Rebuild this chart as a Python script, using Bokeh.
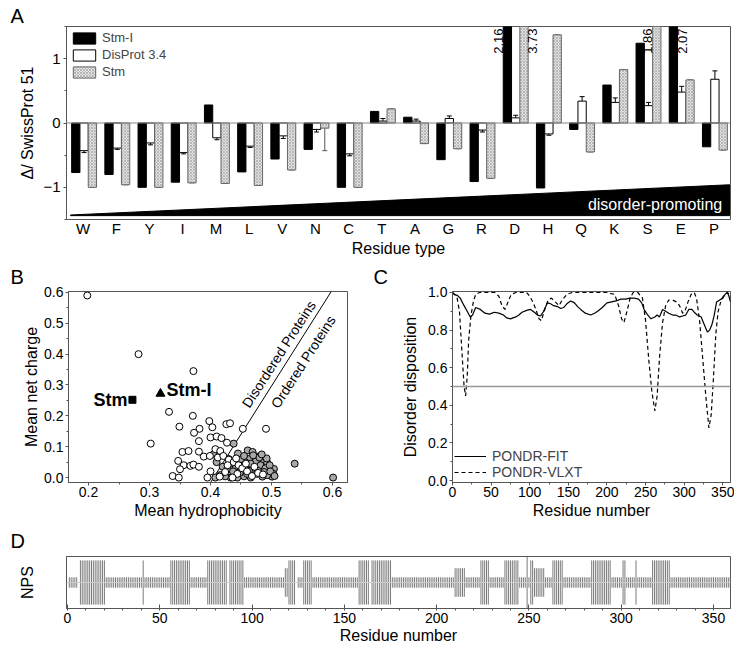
import math
from bokeh.plotting import figure
from bokeh.models import (ColumnDataSource, Whisker, TeeHead, Span, Label, Title,
                          FixedTicker, SingleIntervalTicker, Range1d,
                          NumeralTickFormatter, Legend, LegendItem)
from bokeh.layouts import column, row
from bokeh.embed import file_html
from bokeh.resources import INLINE
from bokeh.transform import dodge

FONT = "Liberation Sans"

# ---------------- Panel A data ----------------
residues = ["W", "F", "Y", "I", "M", "L", "V", "N", "C", "T",
            "A", "G", "R", "D", "H", "Q", "K", "S", "E", "P"]
stm_i = [-0.77, -0.80, -1.00, -0.92, 0.28, -0.76, -0.56, -0.41, -1.00, 0.18,
         0.09, -0.57, -0.91, 2.16, -1.01, -0.10, 0.59, 1.24, 2.07, -0.37]
disprot = [-0.43, -0.39, -0.31, -0.46, -0.23, -0.36, -0.20, -0.10, -0.48, 0.03,
           0.03, 0.07, -0.11, 0.08, -0.17, 0.34, 0.32, 0.27, 0.48, 0.68]
disprot_err = [0.03, 0.02, 0.03, 0.02, 0.03, 0.02, 0.04, 0.04, 0.03, 0.04,
               0.03, 0.04, 0.03, 0.04, 0.02, 0.07, 0.07, 0.05, 0.09, 0.13]
stm = [-1.00, -0.96, -1.00, -0.93, -0.94, -0.97, -0.73, -0.08, -1.00, 0.22,
       -0.32, -0.40, -0.86, 3.73, 1.37, -0.45, 0.83, 1.86, 0.67, -0.42]
stm_err = [0, 0, 0, 0, 0, 0, 0, 0.35, 0, 0,
           0, 0, 0, 0, 0, 0, 0, 0, 0, 0]
# side of the value label for bars running off the top
clip_side = {("Stm-I", "D"): -1, ("Stm", "D"): 1, ("Stm", "S"): -1, ("Stm-I", "E"): 1}
# disorder-promoting wedge
wedge_x = [-0.38, 19.47, 19.47, -0.38]
wedge_y = [-1.43, -0.96, -1.44, -1.44]

# ---------------- Panel B data ----------------
dis_pts = [(0.198, 0.590), (0.282, 0.400), (0.372, 0.345), (0.332, 0.213), (0.371, 0.200),
           (0.349, 0.165), (0.382, 0.158), (0.373, 0.145), (0.398, 0.183), (0.426, 0.173),
           (0.432, 0.176), (0.403, 0.163), (0.453, 0.158), (0.491, 0.158), (0.302, 0.110),
           (0.381, 0.118), (0.400, 0.130), (0.410, 0.133), (0.418, 0.128), (0.427, 0.113),
           (0.354, 0.083), (0.364, 0.086), (0.381, 0.084), (0.389, 0.068), (0.399, 0.070),
           (0.408, 0.092), (0.416, 0.086), (0.347, 0.054), (0.356, 0.040), (0.367, 0.038),
           (0.372, 0.042), (0.381, 0.035), (0.350, 0.027), (0.338, 0.005), (0.348, 0.000),
           (0.395, 0.000), (0.400, 0.020), (0.412, 0.065), (0.421, 0.070), (0.430, 0.058),
           (0.438, 0.050), (0.446, 0.040), (0.452, 0.030), (0.444, 0.012), (0.460, 0.020),
           (0.468, 0.005), (0.478, 0.015), (0.436, 0.000), (0.424, 0.018), (0.415, 0.003),
           (0.458, 0.045), (0.472, 0.035), (0.486, 0.010), (0.442, 0.062), (0.428, 0.040)]
ord_pts = [(0.438, 0.110), (0.461, 0.088), (0.469, 0.083), (0.476, 0.068), (0.463, 0.060),
           (0.457, 0.050), (0.474, 0.052), (0.487, 0.055), (0.493, 0.048), (0.482, 0.040),
           (0.471, 0.032), (0.463, 0.022), (0.452, 0.028), (0.441, 0.035), (0.433, 0.045),
           (0.504, 0.028), (0.503, 0.012), (0.501, 0.003), (0.493, 0.008), (0.485, 0.003),
           (0.476, 0.012), (0.466, 0.000), (0.455, 0.004), (0.444, 0.000), (0.433, 0.000),
           (0.424, 0.004), (0.416, 0.008), (0.408, 0.000), (0.405, 0.075), (0.410, 0.050),
           (0.420, 0.035), (0.427, 0.025), (0.538, 0.045), (0.601, 0.000), (0.490, 0.030),
           (0.497, 0.040), (0.480, 0.065), (0.470, 0.072), (0.450, 0.060), (0.445, 0.078),
           (0.455, 0.070), (0.466, 0.045), (0.478, 0.022), (0.488, 0.018), (0.498, 0.020),
           (0.505, 0.005), (0.460, 0.012), (0.448, 0.015), (0.437, 0.020), (0.430, 0.060),
           (0.492, 0.062), (0.484, 0.075)]
stm_pt = (0.272, 0.252)
stmi_pt = (0.318, 0.272)
boundary_x = [0.400, 0.598]
boundary_y = [-0.016, 0.603]

# ---------------- Panel C data ----------------
fit_res = [0, 2, 6, 10, 15, 19, 23, 26, 30, 36, 42, 48, 54, 60, 66, 70, 75, 82, 86, 90,
           96, 101, 106, 110, 114, 118, 123, 127, 131, 136, 140, 144, 148, 153, 158, 162,
           166, 172, 179, 184, 188, 194, 200, 206, 212, 218, 224, 230, 235, 241, 245, 248,
           252, 257, 262, 265, 268, 272, 276, 280, 285, 289, 294, 298, 302, 306, 310, 313,
           317, 322, 326, 330, 333, 336, 339, 342, 346, 350, 353, 356, 358, 360]
fit_val = [1.0, 0.99, 0.985, 0.97, 0.93, 0.90, 0.87, 0.88, 0.92, 0.91, 0.89, 0.885, 0.895,
           0.89, 0.88, 0.865, 0.86, 0.87, 0.88, 0.895, 0.905, 0.91, 0.895, 0.88, 0.875, 0.90,
           0.945, 0.94, 0.93, 0.925, 0.915, 0.92, 0.94, 0.955, 0.945, 0.925, 0.91, 0.89, 0.88,
           0.89, 0.90, 0.92, 0.945, 0.95, 0.955, 0.965, 0.965, 0.97, 0.97, 0.965, 0.945, 0.91,
           0.885, 0.86, 0.87, 0.88, 0.87, 0.91, 0.90, 0.89, 0.88, 0.88, 0.87, 0.875, 0.88,
           0.91, 0.91, 0.895, 0.88, 0.87, 0.83, 0.79, 0.80, 0.83, 0.88, 0.95, 0.96, 0.97,
           0.99, 1.0, 0.98, 0.95]
vlxt_res = [0, 3, 6, 9, 12, 15, 17, 19, 21, 24, 27, 30, 35, 45, 55, 60, 64, 68, 72, 76,
            82, 90, 96, 100, 104, 108, 112, 115, 118, 121, 124, 128, 133, 138, 142, 148,
            155, 170, 185, 200, 210, 215, 219, 222, 226, 230, 234, 240, 246, 250, 254, 258,
            262, 265, 268, 272, 276, 280, 285, 290, 294, 298, 301, 305, 309, 313, 316, 320,
            324, 328, 332, 335, 338, 341, 344, 348, 352, 356, 360]
vlxt_val = [1.0, 0.99, 0.97, 0.90, 0.70, 0.50, 0.45, 0.55, 0.75, 0.88, 0.95, 0.99, 1.0,
            1.0, 1.0, 0.98, 0.93, 0.91, 0.95, 0.99, 1.0, 1.0, 1.0, 0.98, 0.95, 0.91, 0.86,
            0.85, 0.89, 0.93, 0.96, 0.97, 0.95, 0.93, 0.96, 0.99, 1.0, 1.0, 1.0, 1.0, 0.99,
            0.93, 0.86, 0.84, 0.90, 0.97, 1.0, 1.0, 0.97, 0.85, 0.65, 0.48, 0.37, 0.45, 0.65,
            0.84, 0.93, 0.96, 0.96, 0.95, 0.93, 0.89, 0.90, 0.95, 0.99, 1.0, 0.97, 0.85, 0.65,
            0.45, 0.28, 0.35, 0.55, 0.78, 0.90, 0.96, 0.99, 1.0, 0.98]

# ---------------- Panel D data ----------------
# runs of residues: (first, last, NPS level) 1 = short, 2 = medium, 3 = tall, 4 = full
nps_runs = [(1, 5, 1), (7, 20, 3), (21, 40, 1), (41, 41, 3), (42, 55, 1), (56, 66, 3),
            (67, 75, 1), (76, 86, 3), (88, 95, 3), (96, 117, 1), (118, 119, 2),
            (120, 123, 3), (125, 127, 1), (128, 132, 3), (133, 157, 1), (158, 163, 3),
            (165, 175, 3), (176, 209, 1), (210, 215, 2), (216, 223, 1), (224, 228, 3),
            (229, 236, 1), (237, 244, 3), (245, 248, 1), (249, 249, 4), (250, 250, 1),
            (251, 252, 3), (253, 258, 2), (259, 262, 1), (263, 268, 3), (269, 283, 1),
            (284, 294, 3), (295, 300, 1), (301, 302, 3), (303, 307, 1), (308, 308, 3),
            (309, 316, 1), (317, 326, 3), (327, 359, 1)]
nps_half = {1: 0.2, 2: 0.55, 3: 0.85, 4: 1.0}


def style(p, tick_size="14px", label_size="16px"):
    p.grid.visible = False
    p.outline_line_color = "#555555"
    p.outline_line_width = 1
    for ax in p.axis:
        ax.axis_label_text_font = FONT
        ax.axis_label_text_font_style = "normal"
        ax.axis_label_text_font_size = label_size
        ax.axis_label_text_color = "black"
        ax.major_label_text_font = FONT
        ax.major_label_text_font_size = tick_size
        ax.major_label_text_color = "black"
        ax.axis_line_color = "#555555"
        ax.major_tick_line_color = "#555555"
        ax.minor_tick_line_color = "#555555"
        ax.major_tick_out = 3
        ax.major_tick_in = 0
        ax.minor_tick_out = 2
        ax.minor_tick_in = 0


def panel_title(p, t, offset, standoff):
    p.add_layout(Title(text=t, align="left", offset=offset, standoff=standoff,
                       text_font=FONT, text_font_size="20px", text_font_style="normal",
                       text_color="black"), "above")


# ================= Panel A =================
pA = figure(width=734, height=260, x_range=Range1d(-0.5, 19.5), y_range=Range1d(-1.5, 1.5),
            output_backend="svg", toolbar_location=None,
            min_border_left=66, min_border_right=4, min_border_top=26, min_border_bottom=41)
style(pA, tick_size="15px", label_size="16px")

xs = list(range(len(residues)))


def err_end(vals, errs):
    return [v + (e if v >= 0 else -e) for v, e in zip(vals, errs)]


srcA = ColumnDataSource(dict(x=xs, stm_i=stm_i, disprot=disprot, stm=stm,
                             d_end=err_end(disprot, disprot_err),
                             s_end=err_end(stm, stm_err)))
pA.add_layout(Span(location=0, dimension="width", line_color="#888888", line_width=1))
pA.patch(wedge_x, wedge_y, fill_color="black", line_color="black")

OFF = {"Stm-I": -0.22, "DisProt 3.4": 0.03, "Stm": 0.28}
W = 0.25
r1 = pA.vbar(x=dodge("x", OFF["Stm-I"]), top="stm_i", width=W, source=srcA,
             fill_color="black", line_color="black", line_width=1)
r2 = pA.vbar(x=dodge("x", OFF["DisProt 3.4"]), top="disprot", width=W, source=srcA,
             fill_color="white", line_color="black", line_width=1)
r3 = pA.vbar(x=dodge("x", OFF["Stm"]), top="stm", width=W, source=srcA,
             fill_color="#e2e2e2", line_color="#666666", line_width=1,
             hatch_pattern="x", hatch_color="#9a9a9a", hatch_scale=3, hatch_weight=0.6)
pA.add_layout(Whisker(source=srcA, base=dodge("x", OFF["DisProt 3.4"]), lower="disprot",
                      upper="d_end", line_color="black", line_width=1,
                      upper_head=TeeHead(size=5, line_color="black", line_width=1),
                      lower_head=None))
pA.add_layout(Whisker(source=srcA, base=dodge("x", OFF["Stm"]), lower="stm",
                      upper="s_end", line_color="#555555", line_width=1,
                      upper_head=TeeHead(size=5, line_color="#555555", line_width=1),
                      lower_head=None))

for name, vals in (("Stm-I", stm_i), ("Stm", stm)):
    for i, v in enumerate(vals):
        if v > 1.5:
            side = clip_side[(name, residues[i])]
            pA.add_layout(Label(x=i + OFF[name] + side * 0.27, y=1.47, text=f"{v:.2f}",
                                angle=math.pi / 2, text_align="right", text_baseline="middle",
                                text_font=FONT, text_font_size="13px", text_color="black"))

pA.add_layout(Label(x=19.25, y=-1.27, text="disorder-promoting", text_color="white",
                    text_font=FONT, text_font_size="16px", text_align="right",
                    text_baseline="middle"))

pA.xaxis.ticker = FixedTicker(ticks=xs)
pA.xaxis.major_label_overrides = {i: r for i, r in enumerate(residues)}
pA.xaxis.major_tick_line_color = None
pA.xaxis.minor_tick_line_color = None
pA.xaxis.major_tick_out = 0
pA.xaxis.major_label_standoff = 0
pA.xaxis.axis_label = "Residue type"
pA.xaxis.axis_label_standoff = 0
pA.yaxis.ticker = SingleIntervalTicker(interval=1, num_minor_ticks=2)
pA.yaxis.axis_label = "Δ/ SwissProt 51"
pA.yaxis.major_label_standoff = 3
pA.yaxis.axis_label_standoff = 4

legA = Legend(items=[LegendItem(label="Stm-I", renderers=[r1]),
                     LegendItem(label="DisProt 3.4", renderers=[r2]),
                     LegendItem(label="Stm", renderers=[r3])],
              location="top_left", margin=4, padding=3, spacing=2,
              glyph_width=28, glyph_height=14, label_standoff=4,
              label_text_font=FONT, label_text_font_size="13px",
              border_line_color=None, background_fill_alpha=0)
pA.add_layout(legA)
panel_title(pA, "A", -56, 0)

# ================= Panel B =================
pB = figure(width=368, height=263, x_range=Range1d(0.1672, 0.6246), y_range=Range1d(-0.016, 0.603),
            output_backend="svg", toolbar_location=None,
            min_border_left=68, min_border_right=21, min_border_top=30, min_border_bottom=41)
style(pB, tick_size="14px", label_size="16px")
pB.line(boundary_x, boundary_y, line_color="black", line_width=1)
pB.scatter([p[0] for p in ord_pts], [p[1] for p in ord_pts], marker="circle", size=7,
           fill_color="#a8a8a8", line_color="black", line_width=1)
pB.scatter([p[0] for p in dis_pts], [p[1] for p in dis_pts], marker="circle", size=7,
           fill_color="white", line_color="black", line_width=1)
pB.scatter([stm_pt[0]], [stm_pt[1]], marker="square", size=7, fill_color="black", line_color="black")
pB.scatter([stmi_pt[0]], [stmi_pt[1]], marker="triangle", size=9, fill_color="black", line_color="black")
pB.add_layout(Label(x=stm_pt[0], y=stm_pt[1], x_offset=-5, text="Stm", text_font=FONT,
                    text_font_size="18px", text_font_style="bold", text_align="right",
                    text_baseline="middle", text_color="black"))
pB.add_layout(Label(x=stmi_pt[0], y=stmi_pt[1], x_offset=6, y_offset=4, text="Stm-I", text_font=FONT,
                    text_font_size="18px", text_font_style="bold", text_align="left",
                    text_baseline="middle", text_color="black"))
ang = 1.0
pB.add_layout(Label(x=0.512, y=0.40, text="Disordered Proteins", angle=ang, text_font=FONT,
                    text_font_size="14px", text_align="center", text_baseline="middle",
                    text_color="black"))
pB.add_layout(Label(x=0.552, y=0.375, text="Ordered Proteins", angle=ang, text_font=FONT,
                    text_font_size="14px", text_align="center", text_baseline="middle",
                    text_color="black"))
pB.xaxis.ticker = SingleIntervalTicker(interval=0.1, num_minor_ticks=2)
pB.yaxis.ticker = SingleIntervalTicker(interval=0.1, num_minor_ticks=2)
pB.xaxis.formatter = NumeralTickFormatter(format="0.0")
pB.yaxis.formatter = NumeralTickFormatter(format="0.0")
pB.xaxis.axis_label = "Mean hydrophobicity"
pB.yaxis.axis_label = "Mean net charge"
pB.xaxis.major_label_standoff = 1
pB.yaxis.major_label_standoff = 2
pB.xaxis.axis_label_standoff = 2
pB.yaxis.axis_label_standoff = 1
panel_title(pB, "B", -58, 7)

# ================= Panel C =================
pC = figure(width=366, height=263, x_range=Range1d(0, 360), y_range=Range1d(-0.0106, 1.0053),
            output_backend="svg", toolbar_location=None,
            min_border_left=84, min_border_right=4, min_border_top=30, min_border_bottom=41)
style(pC, tick_size="14px", label_size="16px")
pC.add_layout(Span(location=0.5, dimension="width", line_color="#999999", line_width=1.5))
rf = pC.line(fit_res, fit_val, line_color="black", line_width=1.2)
rv = pC.line(vlxt_res, vlxt_val, line_color="black", line_width=1.2, line_dash="4 3")
pC.xaxis.ticker = SingleIntervalTicker(interval=50, num_minor_ticks=2)
pC.yaxis.ticker = SingleIntervalTicker(interval=0.2, num_minor_ticks=2)
pC.yaxis.formatter = NumeralTickFormatter(format="0.0")
pC.xaxis.axis_label = "Residue number"
pC.yaxis.axis_label = "Disorder disposition"
pC.xaxis.major_label_standoff = 1
pC.yaxis.major_label_standoff = 2
pC.xaxis.axis_label_standoff = 2
pC.yaxis.axis_label_standoff = 6
legC = Legend(items=[LegendItem(label="PONDR-FIT", renderers=[rf]),
                     LegendItem(label="PONDR-VLXT", renderers=[rv])],
              location="bottom_left", margin=2, padding=2, spacing=0,
              glyph_width=32, glyph_height=14, label_standoff=6,
              label_text_font=FONT, label_text_font_size="14px",
              border_line_color=None, background_fill_alpha=0)
pC.add_layout(legC)
panel_title(pC, "C", -79, 7)

# ================= Panel D =================
pD = figure(width=734, height=123, x_range=Range1d(-0.54, 359.2), y_range=Range1d(-1, 1),
            output_backend="svg", toolbar_location=None,
            min_border_left=66, min_border_right=4, min_border_top=33, min_border_bottom=38)
style(pD, tick_size="14px", label_size="16px")
res_d, half_d = [], []
for a, b, lev in nps_runs:
    for r in range(a, b + 1):
        res_d.append(r)
        half_d.append(nps_half[lev])
pD.add_layout(Span(location=0, dimension="width", line_color="#cccccc", line_width=1))
pD.segment(x0=res_d, y0=[-h for h in half_d], x1=res_d, y1=half_d,
           line_color="#7a7a7a", line_width=1)
pD.xaxis.ticker = SingleIntervalTicker(interval=50)
pD.xaxis.major_tick_in = 4
pD.xaxis.major_tick_out = 0
pD.xaxis.major_label_standoff = 2
pD.xaxis.axis_label = "Residue number"
pD.xaxis.axis_label_standoff = 1
pD.yaxis.ticker = FixedTicker(ticks=[])
pD.yaxis.axis_label = "NPS"
pD.yaxis.axis_label_standoff = 31
panel_title(pD, "D", -56, 9)

layout = column(pA, row(pB, pC, spacing=0), pD, spacing=0)
open("out.html", "w").write(file_html(layout, INLINE))
